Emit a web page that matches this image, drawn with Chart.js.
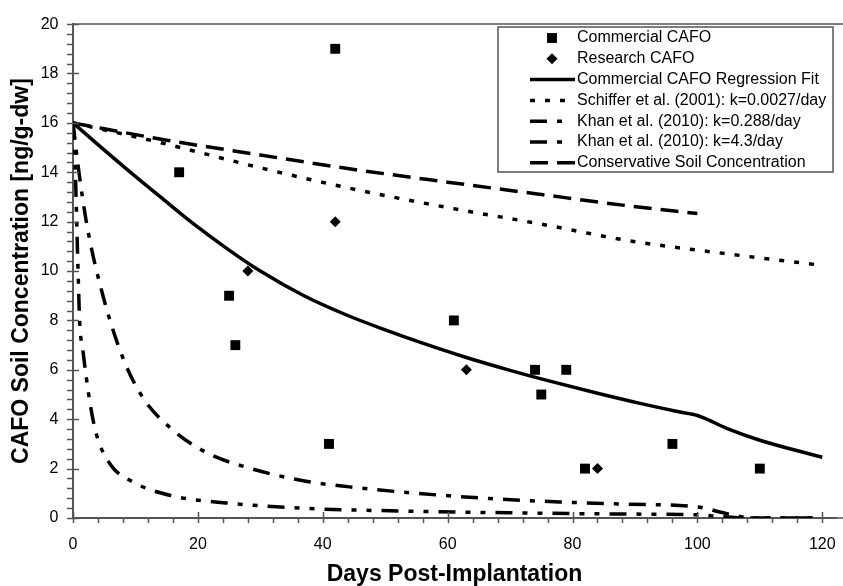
<!DOCTYPE html>
<html>
<head>
  <meta charset="utf-8">
  <script src="https://cdn.jsdelivr.net/npm/chart.js"></script>
  <style>
    html, body { margin: 0; padding: 0; background: #fff; overflow: hidden; }
    #soilChart { display: block; }
  </style>
</head>
<body>
  <canvas id="soilChart" width="843" height="586"></canvas>

  <script>
    // measured samples (days, ng/g-dw)
    const commercialDays = [17, 25, 26, 41, 42, 61, 74, 75, 79, 82, 96, 110];
    const commercialConc = [14, 9, 7, 3, 19, 8, 6, 5, 6, 2, 3, 2];
    const researchDays = [28, 42, 63, 84];
    const researchConc = [10, 12, 6, 2];

    // curves
    const fitDays = [0, 4, 8.5, 14, 19, 25, 30, 37, 44, 50, 56, 63, 70, 77, 84, 91, 97, 100, 105, 110, 120];
    const fitConc = [16, 15.12, 14.15, 13.0, 11.97, 10.85, 10.0, 9.0, 8.2, 7.62, 7.08, 6.5, 5.98, 5.5, 5.05, 4.63, 4.3, 4.15, 3.6, 3.15, 2.46];
    const schifferDays = [0, 14, 30, 44, 60, 75, 89, 105, 120];
    const schifferConc = [16, 15.2, 14.18, 13.37, 12.57, 11.9, 11.23, 10.69, 10.23];
    const khanSlowDays = [0, 0.8, 2.2, 4.8, 8, 11.2, 15.5, 21.3, 27.7, 37.3, 44.3, 55, 66.7, 77.9, 88.5, 100, 104, 108, 112, 120];
    const khanSlowConc = [16, 14.3, 11.9, 9.0, 6.48, 4.87, 3.67, 2.66, 2.06, 1.49, 1.26, 1.0, 0.79, 0.65, 0.56, 0.45, 0.22, 0.02, 0, 0];
    const khanFastDays = [0, 0.27, 0.54, 0.8, 1.07, 1.6, 2.67, 3.74, 5.9, 9.6, 15.5, 24.5, 37.3, 45.9, 69.9, 88.5, 100, 104, 108, 120];
    const khanFastConc = [16, 14.9, 12.5, 10.1, 7.95, 6.75, 4.74, 3.4, 2.2, 1.46, 0.92, 0.61, 0.39, 0.32, 0.21, 0.16, 0.13, 0.05, 0, 0];
    const conservDays = [0, 15, 30, 44, 60, 75, 89, 100];
    const conservConc = [16, 15.3, 14.7, 14.15, 13.6, 13.1, 12.64, 12.33];

    const xTickLabels = [0, 20, 40, 60, 80, 100, 120];
    const yTickLabels = [0, 2, 4, 6, 8, 10, 12, 14, 16, 18, 20];

    const FONT = '"Liberation Sans", Arial, sans-serif';
    const AXIS_GREY = '#555';

    function toXY(xs, ys) {
      return xs.map((x, i) => ({ x: x, y: ys[i] }));
    }

    function lineSet(label, xs, ys, dash, legendLen) {
      return {
        label: label,
        data: toXY(xs, ys),
        showLine: true,
        borderColor: '#000',
        borderWidth: 3.5,
        borderDash: dash,
        pointRadius: 0,
        cubicInterpolationMode: 'monotone',
        fill: false,
        legendLen: legendLen
      };
    }

    // frame line on top + the minor/major tick marks
    const axisDecor = {
      id: 'axisDecor',
      afterDraw(chart) {
        const { ctx, chartArea } = chart;
        const xs = chart.scales.x, ys = chart.scales.y;
        const bottom = ys.getPixelForValue(0);
        const left = xs.getPixelForValue(0);
        ctx.save();
        ctx.strokeStyle = AXIS_GREY;
        ctx.lineWidth = 1.5;
        ctx.beginPath();
        const top = ys.getPixelForValue(20);
        ctx.moveTo(chartArea.left, top);
        ctx.lineTo(chart.width, top);
        // the axis runs on to the right edge of the picture
        ctx.moveTo(chartArea.right, bottom);
        ctx.lineTo(chart.width, bottom);
        for (let d = 0; d <= 120; d += 4) {
          const px = Math.round(xs.getPixelForValue(d)) + 0.5;
          ctx.moveTo(px, bottom + 5);
          ctx.lineTo(px, d % 20 === 0 ? bottom - 6 : bottom);
        }
        for (let i = 0; i <= 50; i++) {
          const py = Math.round(ys.getPixelForValue(i * 0.4)) + 0.5;
          ctx.moveTo(left - 6, py);
          ctx.lineTo(i % 5 === 0 ? left + 6 : left, py);
        }
        ctx.stroke();
        ctx.restore();
      }
    };

    // boxed legend in the upper right, like the spreadsheet one
    const boxedLegend = {
      id: 'boxedLegend',
      afterDraw(chart) {
        const { ctx } = chart;
        const left = 498, top = 27, right = 833, bottom = 172;
        ctx.save();
        ctx.fillStyle = '#fff';
        ctx.fillRect(left, top, right - left, bottom - top);
        ctx.strokeStyle = AXIS_GREY;
        ctx.lineWidth = 1.5;
        ctx.strokeRect(left, top, right - left, bottom - top);
        ctx.font = '16px ' + FONT;
        ctx.textBaseline = 'middle';
        chart.data.datasets.forEach((ds, i) => {
          const cy = 38 + i * 20.8;
          ctx.fillStyle = '#000';
          ctx.strokeStyle = '#000';
          if (ds.showLine) {
            ctx.setLineDash(ds.borderDash || []);
            ctx.lineWidth = ds.borderWidth;
            ctx.beginPath();
            ctx.moveTo(530, cy);
            ctx.lineTo(530 + ds.legendLen, cy);
            ctx.stroke();
            ctx.setLineDash([]);
          } else {
            Chart.helpers.drawPoint(ctx, {
              pointStyle: ds.pointStyle,
              radius: ds.pointRadius,
              rotation: 0,
              borderWidth: 0
            }, 552, cy);
          }
          ctx.fillText(ds.label, 577, cy);
        });
        ctx.restore();
      }
    };

    const ctx = document.getElementById('soilChart').getContext('2d');
    new Chart(ctx, {
      type: 'scatter',
      data: {
        datasets: [
          {
            label: 'Commercial CAFO',
            data: toXY(commercialDays, commercialConc),
            pointStyle: 'rect',
            pointRadius: 7,
            borderWidth: 0,
            backgroundColor: '#000',
            borderColor: '#000'
          },
          {
            label: 'Research CAFO',
            data: toXY(researchDays, researchConc),
            pointStyle: 'rectRot',
            pointRadius: 5.5,
            borderWidth: 0,
            backgroundColor: '#000',
            borderColor: '#000'
          },
          lineSet('Commercial CAFO Regression Fit', fitDays, fitConc, [], 45),
          lineSet('Schiffer et al. (2001): k=0.0027/day', schifferDays, schifferConc, [5, 10], 36),
          lineSet('Khan et al. (2010): k=0.288/day', khanSlowDays, khanSlowConc, [17, 10, 5, 10], 37),
          lineSet('Khan et al. (2010): k=4.3/day', khanFastDays, khanFastConc, [17, 10, 5, 10, 5, 10], 37),
          lineSet('Conservative Soil Concentration', conservDays, conservConc, [18, 9], 45)
        ]
      },
      options: {
        responsive: false,
        animation: false,
        events: [],
        layout: { padding: { top: 20, right: 0, bottom: 0, left: 0 } },
        plugins: {
          legend: { display: false },
          tooltip: { enabled: false }
        },
        scales: {
          x: {
            type: 'linear',
            min: 0,
            max: 122.2,
            afterFit: s => {
              s.height = 68;
              s.paddingLeft = 0;
              s.paddingRight = 0;
            },
            afterBuildTicks: s => {
              s.ticks = [];
              for (let d = 0; d <= 120; d += 4) s.ticks.push({ value: d });
            },
            grid: { display: false, drawTicks: false },
            border: { display: true, color: AXIS_GREY, width: 2 },
            ticks: {
              autoSkip: false,
              maxRotation: 0,
              padding: 17,
              color: '#000',
              font: { family: FONT, size: 16 },
              callback: v => xTickLabels.includes(v) ? String(v) : ''
            },
            title: {
              display: true,
              text: 'Days Post-Implantation',
              color: '#000',
              font: { family: FONT, size: 23, weight: 'bold', lineHeight: 1 },
              padding: { top: 0, bottom: 0 }
            }
          },
          y: {
            min: 0,
            max: 20,
            afterFit: s => { s.width = 73; },
            grid: { display: false, drawTicks: false },
            border: { display: true, color: AXIS_GREY, width: 2 },
            ticks: {
              stepSize: 2,
              padding: 14.5,
              color: '#000',
              font: { family: FONT, size: 16 },
              callback: v => yTickLabels.includes(v) ? String(v) : ''
            },
            title: {
              display: true,
              text: 'CAFO Soil Concentration [ng/g-dw]',
              color: '#000',
              font: { family: FONT, size: 23, weight: 'bold', lineHeight: 1 },
              padding: { top: 10, bottom: 0 }
            }
          }
        }
      },
      plugins: [axisDecor, boxedLegend]
    });
  </script>
</body>
</html>
